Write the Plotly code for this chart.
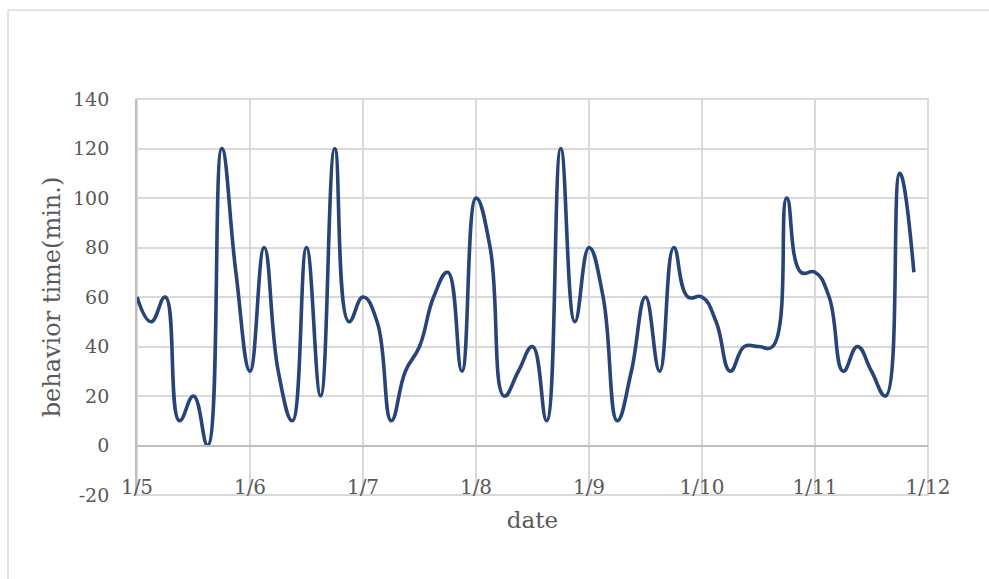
import pandas as pd
import plotly.graph_objects as go

# Behaviour time sampled every 3 hours, 1/5 00:00 through 1/11 21:00
behavior_minutes = [
    60, 50, 60, 10, 20, 0, 120, 70,      # 1/5
    30, 80, 30, 10, 80, 20, 120, 50,     # 1/6
    60, 50, 10, 30, 40, 60, 70, 30,      # 1/7
    100, 80, 20, 30, 40, 10, 120, 50,    # 1/8
    80, 60, 10, 30, 60, 30, 80, 60,      # 1/9
    60, 50, 30, 40, 40, 40, 100, 70,     # 1/10
    70, 60, 30, 40, 30, 20, 110, 70,     # 1/11
]
timestamps = pd.date_range("2024-01-05 00:00", periods=len(behavior_minutes), freq="3h")

day_ticks = pd.date_range("2024-01-05", "2024-01-12", freq="D")
day_labels = [f"{d.month}/{d.day}" for d in day_ticks]
y_ticks = [-20, 0, 20, 40, 60, 80, 100, 120, 140]
y_labels = [str(v) for v in y_ticks]

FONT = "DejaVu Serif"
TEXT = "#595959"
GRID = "#d9d9d9"
AXIS = "#bfbfbf"

fig = go.Figure()
fig.add_trace(go.Scatter(
    x=timestamps,
    y=behavior_minutes,
    mode="lines",
    line=dict(color="#264478", width=3.6, shape="spline", smoothing=1.3),
    showlegend=False,
))

fig.update_layout(
    width=989,
    height=579,
    margin=dict(l=137, r=61, t=99, b=84),
    paper_bgcolor="white",
    plot_bgcolor="white",
    font=dict(family=FONT, size=19, color=TEXT),
    xaxis=dict(
        range=[day_ticks[0], day_ticks[-1]],
        tickvals=day_ticks,
        ticktext=day_labels,
        tickfont=dict(size=20),
        showgrid=True,
        gridcolor=GRID,
        gridwidth=1.8,
        anchor="free",
        position=0.125,
        showline=True,
        linecolor=AXIS,
        linewidth=1.8,
        ticks="",
        ticklabelstandoff=24,
        title=dict(text="date", font=dict(family=FONT, size=23, color=TEXT), standoff=12),
        zeroline=False,
    ),
    yaxis=dict(
        range=[y_ticks[0], y_ticks[-1]],
        tickvals=y_ticks,
        ticktext=y_labels,
        showgrid=True,
        gridcolor=GRID,
        gridwidth=1.8,
        zeroline=False,
        showline=True,
        linecolor=AXIS,
        linewidth=1.8,
        ticks="",
        ticklabelstandoff=22,
        title=dict(text="behavior time(min.)", font=dict(family=FONT, size=24, color=TEXT), standoff=6),
    ),
    shapes=[
        # plot-area frame: edge gridlines at 140, -20 and 1/12
        dict(type="rect", xref="paper", yref="paper",
             x0=0, x1=1, y0=0, y1=1,
             line=dict(color=GRID, width=1.8), fillcolor="rgba(0,0,0,0)", layer="below"),
        # outer chart border
        dict(type="rect", xref="paper", yref="paper",
             x0=-0.163, x1=1.2, y0=-0.4, y1=1.2247,
             line=dict(color=GRID, width=1.5), fillcolor="rgba(0,0,0,0)", layer="below"),
    ],
)

fig.write_html("out.html")
